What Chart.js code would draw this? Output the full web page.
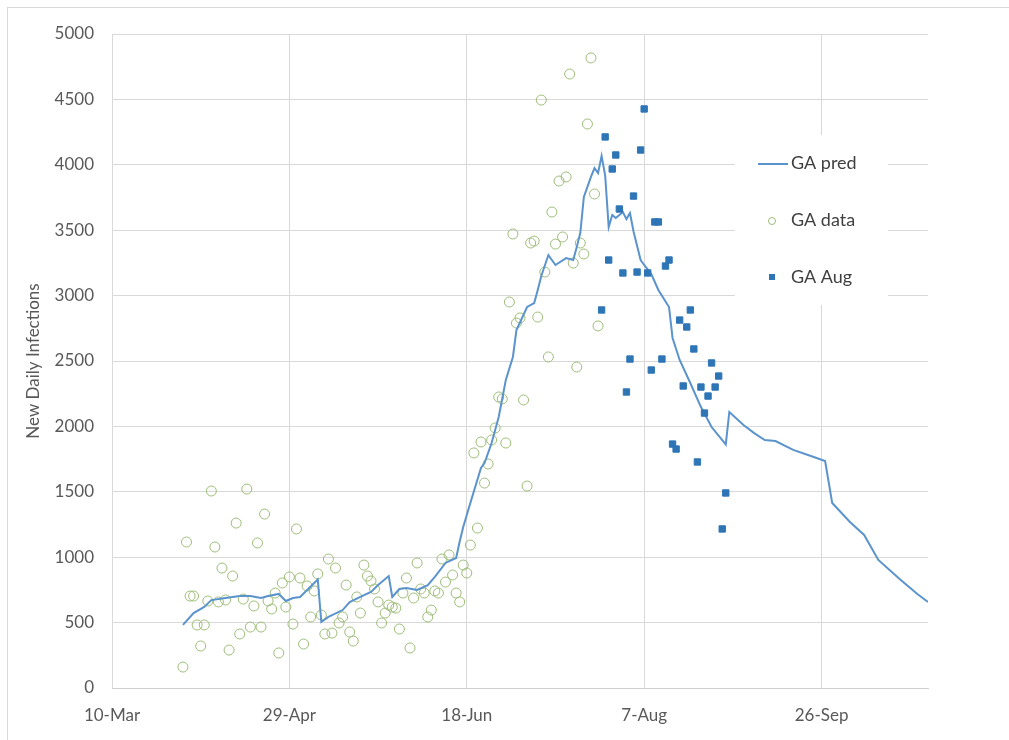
<!DOCTYPE html>
<html>
<head>
<meta charset="utf-8">
<script src="https://cdn.jsdelivr.net/npm/chart.js@4/dist/chart.umd.min.js"></script>
<style>
  body { margin: 0; background: #fff; }
  #wrap { position: relative; width: 1009px; height: 740px; overflow: hidden; }
  #frame { position: absolute; left: 7px; top: 7px; width: 1100px; height: 800px; border: 1px solid #d9d9d9; }
  #ga_chart { position: absolute; left: 0; top: 0; }
</style>
</head>
<body>
<div id="wrap">
  <div id="frame"></div>
  <canvas id="ga_chart" width="1009" height="740"></canvas>
</div>
<script>
// x values are days counted from 10-Mar
const tickLabels = ["10-Mar", "29-Apr", "18-Jun", "7-Aug", "26-Sep"];

const predDays = [20, 23, 26, 28, 32, 36, 39, 42, 44, 47, 49, 51, 53, 55, 58, 59, 61, 65, 67, 70,
  73, 75, 78, 79, 81, 83, 86, 89, 91, 94, 97, 98, 99, 101, 104, 105, 107, 109, 111, 113,
  114, 117, 119, 120, 121, 123, 125, 128, 130, 131, 132, 133, 135, 136, 137, 138, 139, 140, 141, 142,
  144, 145, 146, 147, 149, 150, 152, 154, 157, 158, 160, 163, 166, 169, 173, 174, 178, 181, 184, 187,
  192, 197, 201, 203, 208, 212, 216, 222, 227, 230];
const predValues = [482, 573, 620, 672, 688, 703, 703, 688, 703, 719, 665, 688, 696, 749, 830, 505, 543, 596, 657, 696,
  734, 787, 856, 696, 757, 764, 749, 787, 849, 956, 994, 1120, 1231, 1414, 1682, 1720, 1873, 2072, 2355, 2531,
  2737, 2913, 2943, 3043, 3150, 3310, 3234, 3287, 3272, 3372, 3480, 3754, 3907, 3975, 3937, 4067, 3920, 3524, 3616, 3593,
  3639, 3585, 3631, 3490, 3272, 3234, 3165, 3043, 2913, 2676, 2508, 2332, 2148, 1995, 1862, 2110, 2011, 1949, 1896, 1888,
  1820, 1774, 1735, 1414, 1269, 1170, 979, 833, 719, 657];

const dataDays = [20, 21, 22, 23, 24, 25, 26, 27, 28, 29, 30, 31, 32, 33, 34, 35, 36, 37, 38, 39,
  40, 41, 42, 43, 44, 45, 46, 47, 48, 49, 50, 51, 52, 53, 54, 55, 56, 57, 58, 59,
  60, 61, 62, 63, 64, 65, 66, 67, 68, 69, 70, 71, 72, 73, 74, 75, 76, 77, 78, 79,
  80, 81, 82, 83, 84, 85, 86, 87, 88, 89, 90, 91, 92, 93, 94, 95, 96, 97, 98, 99,
  100, 101, 102, 103, 104, 105, 106, 107, 108, 109, 110, 111, 112, 113, 114, 115, 116, 117, 118, 119,
  120, 121, 122, 123, 124, 125, 126, 127, 128, 129, 130, 131, 132, 133, 134, 135, 136, 137];
const dataValues = [160, 1116, 703, 703, 482, 321, 482, 665, 1506, 1078, 658, 917, 673, 290, 856, 1261, 413, 680, 1521, 466,
  627, 1109, 466, 1330, 665, 604, 726, 268, 803, 619, 849, 489, 1216, 841, 336, 780, 543, 742, 872, 558,
  413, 986, 420, 917, 497, 543, 787, 428, 359, 696, 573, 940, 856, 818, 757, 658, 497, 573, 634, 619,
  611, 451, 726, 841, 306, 688, 956, 757, 726, 543, 596, 742, 726, 986, 810, 1017, 864, 726, 658, 940,
  879, 1093, 1797, 1223, 1881, 1567, 1713, 1896, 1988, 2225, 2210, 1873, 2951, 3471, 2790, 2829, 2202, 1544, 3402, 3417,
  2836, 4495, 3180, 2531, 3639, 3394, 3876, 3448, 3907, 4694, 3249, 2454, 3402, 3318, 4312, 4817, 3777, 2768];

const augDays = [138, 139, 140, 141, 142, 143, 144, 145, 146, 147, 148, 149, 150, 151, 152, 153, 154, 155,
  156, 157, 158, 159, 160, 161, 162, 163, 164, 165, 166, 167, 168, 169, 170, 171, 172, 173];
const augValues = [2890, 4213, 3272, 3968, 4075, 3662, 3173, 2263, 2515, 3761, 3180, 4113, 4427, 3173, 2431, 3563, 3563, 2515,
  3226, 3272, 1865, 1827, 2813, 2309, 2760, 2890, 2592, 1728, 2301, 2102, 2232, 2485, 2301, 2385, 1216, 1491];

const predColor = "#5b93cd";
const dataColor = "#9dbd78";
const augColor = "#2e75b6";
const textColor = "#595959";
const gridColor = "#d9d9d9";

const toPoints = (xs, ys) => xs.map((x, i) => ({ x: x, y: ys[i] }));

// legend sits inside the plot on a white box, like the Excel original
const boxLegend = {
  id: "boxLegend",
  afterDraw: (chart) => {
    const ctx = chart.ctx;
    ctx.save();
    ctx.fillStyle = "#fff";
    ctx.fillRect(735, 135, 153, 170);
    ctx.font = "18px Lato";
    ctx.fillStyle = "#404040";
    ctx.textBaseline = "middle";
    ctx.fillText("GA pred", 791, 163);
    ctx.fillText("GA data", 791, 220);
    ctx.fillText("GA Aug", 791, 277);
    ctx.strokeStyle = predColor;
    ctx.lineWidth = 2;
    ctx.beginPath();
    ctx.moveTo(758, 164);
    ctx.lineTo(788, 164);
    ctx.stroke();
    ctx.strokeStyle = dataColor;
    ctx.lineWidth = 1;
    ctx.beginPath();
    ctx.arc(772, 221, 3.5, 0, Math.PI * 2);
    ctx.stroke();
    ctx.fillStyle = augColor;
    ctx.fillRect(769, 274, 6, 6);
    ctx.restore();
  },
};

const cxt = document.getElementById("ga_chart").getContext("2d");

new Chart(cxt, {
  type: "scatter",
  data: {
    datasets: [
      {
        label: "GA Aug",
        data: toPoints(augDays, augValues),
        pointStyle: "rect",
        pointRadius: 4.5,
        backgroundColor: augColor,
        borderColor: augColor,
        borderWidth: 1,
        order: 0,
      },
      {
        label: "GA pred",
        type: "line",
        data: toPoints(predDays, predValues),
        borderColor: predColor,
        borderWidth: 2,
        pointRadius: 0,
        tension: 0,
        fill: false,
        order: 1,
      },
      {
        label: "GA data",
        data: toPoints(dataDays, dataValues),
        pointStyle: "circle",
        pointRadius: 5,
        backgroundColor: "rgba(0,0,0,0)",
        borderColor: dataColor,
        borderWidth: 1,
        order: 2,
      },
    ],
  },
  options: {
    responsive: false,
    animation: false,
    devicePixelRatio: 1,
    layout: {
      padding: { top: 34, right: 81, bottom: 0, left: 0 },
    },
    plugins: {
      legend: { display: false },
      tooltip: { enabled: false },
    },
    scales: {
      x: {
        type: "linear",
        min: 0,
        max: 230,
        afterFit: (scale) => {
          scale.height = 52;
        },
        ticks: {
          stepSize: 50,
          includeBounds: false,
          padding: 17,
          color: textColor,
          font: { family: "Lato", size: 17 },
          callback: (v) => (v % 50 === 0 ? tickLabels[v / 50] : ""),
        },
        grid: { color: gridColor, drawTicks: false },
        border: { display: true, color: "#cfcfcf" },
      },
      y: {
        min: 0,
        max: 5000,
        afterFit: (scale) => {
          scale.width = 112;
        },
        ticks: {
          stepSize: 500,
          padding: 18,
          color: textColor,
          font: { family: "Lato", size: 17 },
          callback: (v) => String(v),
        },
        grid: { color: gridColor, drawTicks: false },
        border: { display: false },
        title: {
          display: true,
          text: "New Daily Infections",
          color: textColor,
          font: { family: "Lato", size: 17 },
          padding: { top: 23, bottom: 0 },
        },
      },
    },
  },
  plugins: [boxLegend],
});
</script>
</body>
</html>
